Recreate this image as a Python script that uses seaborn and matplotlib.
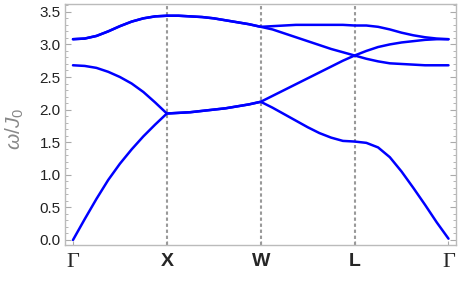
import numpy as np
import pandas as pd
import matplotlib.pyplot as plt
import seaborn as sns

# path through the Brillouin zone: Gamma-X-W-L-Gamma, 8 samples per segment
k = np.arange(33) / 8
k_ticks = [0, 1, 2, 3, 4]
k_labels = ["Γ", "X", "W", "L", "Γ"]

# magnon bands (omega / J0)
band1 = [0.00, 0.32, 0.63, 0.92, 1.17, 1.39, 1.59, 1.77, 1.94,
         1.95, 1.96, 1.98, 2.00, 2.02, 2.05, 2.08, 2.12,
         2.03, 1.93, 1.83, 1.73, 1.64, 1.57, 1.52, 1.51,
         1.49, 1.42, 1.27, 1.05, 0.80, 0.54, 0.27, 0.02]
band2 = [2.68, 2.67, 2.64, 2.58, 2.50, 2.40, 2.27, 2.11, 1.94,
         1.95, 1.96, 1.98, 2.00, 2.02, 2.05, 2.08, 2.12,
         2.21, 2.30, 2.39, 2.48, 2.57, 2.66, 2.75, 2.83,
         2.78, 2.74, 2.71, 2.70, 2.69, 2.68, 2.68, 2.68]
band3 = [3.08, 3.09, 3.13, 3.20, 3.28, 3.35, 3.40, 3.43, 3.44,
         3.44, 3.43, 3.42, 3.40, 3.37, 3.34, 3.31, 3.27,
         3.23, 3.17, 3.11, 3.05, 2.99, 2.93, 2.88, 2.83,
         2.90, 2.96, 3.00, 3.03, 3.05, 3.07, 3.08, 3.08]
band4 = [3.08, 3.09, 3.13, 3.20, 3.28, 3.35, 3.40, 3.43, 3.44,
         3.44, 3.43, 3.42, 3.40, 3.37, 3.34, 3.31, 3.27,
         3.28, 3.29, 3.30, 3.30, 3.30, 3.30, 3.30, 3.29,
         3.29, 3.27, 3.23, 3.18, 3.14, 3.11, 3.09, 3.08]

df = pd.concat([pd.DataFrame({"k": k, "omega": b, "band": i})
                for i, b in enumerate([band1, band2, band3, band4])])

sns.set_theme(style="white")
plt.rcParams["font.family"] = ["Liberation Sans", "DejaVu Sans"]
plt.rcParams["mathtext.fontset"] = "custom"
plt.rcParams["mathtext.it"] = "Liberation Sans:italic"
plt.rcParams["mathtext.rm"] = "Liberation Sans"

fig = plt.figure(figsize=(4.58, 2.81), dpi=100)
ax = fig.add_axes([65 / 458, 1 - 245 / 281, 391 / 458, 241 / 281])

for x in k_ticks[1:-1]:
    ax.axvline(x, color="#999999", lw=1.5, ls=(0, (1.6, 1.3)), zorder=1)

sns.lineplot(data=df, x="k", y="omega", units="band", estimator=None,
             sort=False, color="#0000ff", lw=1.8, ax=ax, zorder=3)

ax.set_xlim(-0.085, 4.08)
ax.set_ylim(-0.077, 3.62)
ax.set_yticks(np.arange(0, 3.6, 0.5))
ax.set_yticks(np.arange(0, 3.61, 0.1), minor=True)
ax.set_yticklabels([f"{v:.1f}" for v in np.arange(0, 3.6, 0.5)], fontsize=11, color="#222222")
ax.set_xticks(k_ticks)
ax.set_xticklabels(k_labels)
for i, lab in enumerate(ax.get_xticklabels()):
    if k_labels[i] == "Γ":
        lab.set_fontfamily("Liberation Serif")
        lab.set_fontsize(16)
    else:
        lab.set_fontweight("bold")
        lab.set_fontsize(14)

ax.tick_params(axis="y", which="both", direction="in", left=True, right=True,
               color="#aaaaaa", pad=3)
ax.tick_params(axis="y", which="major", length=4, width=0.8)
ax.tick_params(axis="y", which="minor", length=2, width=0.6)
ax.tick_params(axis="x", direction="in", bottom=True, length=3, width=0.8,
               color="#aaaaaa", pad=6)

for s in ax.spines.values():
    s.set_color("#bbbbbb")
    s.set_linewidth(1)

ax.set_xlabel("")
ax.set_ylabel(r"$\omega/J_0$", fontsize=15, color="#888888")
ax.yaxis.set_label_coords(-0.1, 0.483)

fig.savefig("out.png", dpi=100)
